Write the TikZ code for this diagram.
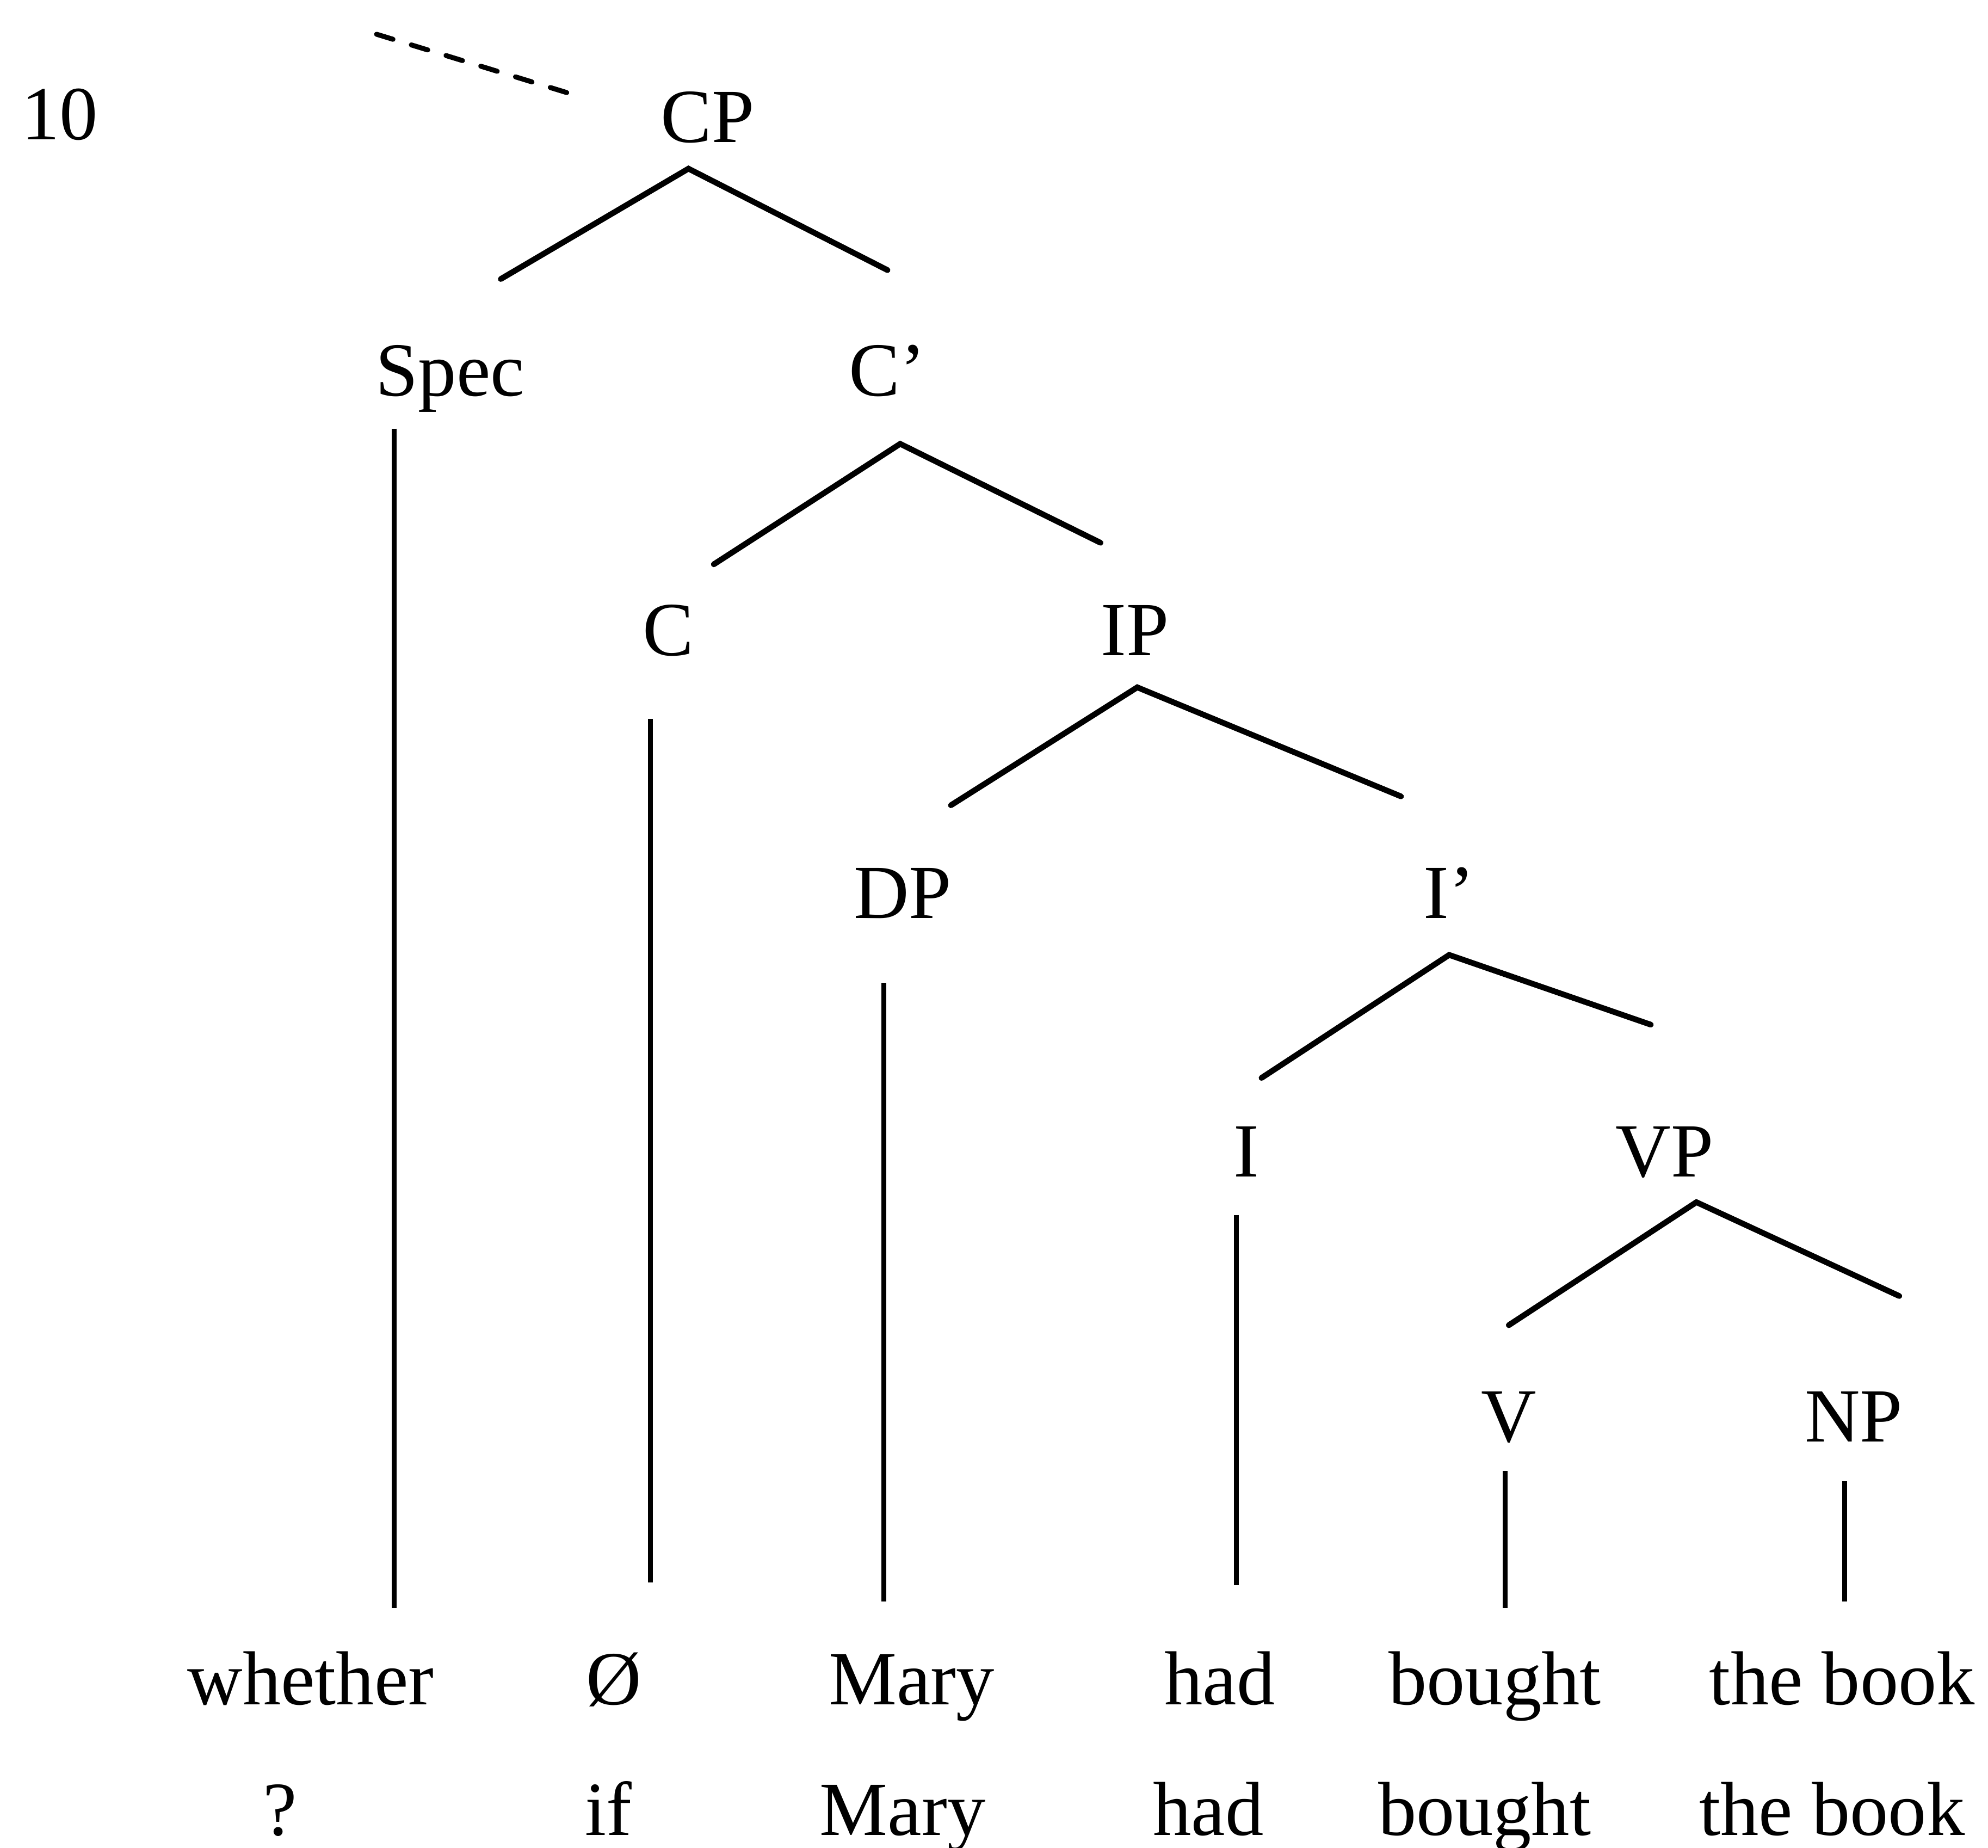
\documentclass[tikz,border=0pt]{standalone}
\usepackage{fontspec}
\setmainfont{Liberation Serif}

\begin{document}
\begin{tikzpicture}[x=0.023304cm,y=-0.023304cm,
    every node/.style={font=\fontsize{40}{48}\selectfont,anchor=base,inner sep=0pt},
    branch/.style={line width=3pt,line cap=round,line join=miter},
    stem/.style={line width=2.6pt}]
\useasboundingbox (0,0) rectangle (1568,1457);
% category labels
\node (ex) at (47,110) {10};
\node (CP) at (558,112) {CP};
\node (Spec) at (355,312) {Spec};
\node (Cbar) at (700,312) {C’};
\node (C) at (527,517) {C};
\node (IP) at (895,517) {IP};
\node (DP) at (712,724) {DP};
\node (Ibar) at (1143,724) {I’};
\node (I) at (983,928) {I};
\node (VP) at (1313,928) {VP};
\node (V) at (1190,1137) {V};
\node (NP) at (1462,1137) {NP};
% words
\node (w1) at (245,1344) {whether};
\node (w2) at (484,1344) {Ø};
\node (w3) at (719,1344) {Mary};
\node (w4) at (962,1344) {had};
\node (w5) at (1179,1344) {bought};
\node (w6) at (1453,1344) {the book};
\node (v1) at (221,1447) {?};
\node (v2) at (480,1447) {if};
\node (v3) at (712,1447) {Mary};
\node (v4) at (953,1447) {had};
\node (v5) at (1171,1447) {bought};
\node (v6) at (1445,1447) {the book};
% branch points
\coordinate (dashA) at (297,27);
\coordinate (dashB) at (447,73);
\coordinate (cpT) at (543,133);  \coordinate (cpL) at (395,220);  \coordinate (cpR) at (700,213);
\coordinate (cbT) at (710,350);  \coordinate (cbL) at (563,445);  \coordinate (cbR) at (868,428);
\coordinate (ipT) at (897,542);  \coordinate (ipL) at (750,635);  \coordinate (ipR) at (1105,628);
\coordinate (ibT) at (1143,753); \coordinate (ibL) at (995,850);  \coordinate (ibR) at (1302,808);
\coordinate (vpT) at (1338,948); \coordinate (vpL) at (1190,1045); \coordinate (vpR) at (1498,1022);
% stems
\coordinate (specT) at (311,338);  \coordinate (specB) at (311,1268);
\coordinate (cT) at (513,567);     \coordinate (cB) at (513,1248);
\coordinate (dpT) at (697,775);    \coordinate (dpB) at (697,1263);
\coordinate (iT) at (975,958);     \coordinate (iB) at (975,1250);
\coordinate (vT) at (1187,1160);   \coordinate (vB) at (1187,1268);
\coordinate (npT) at (1455,1168);  \coordinate (npB) at (1455,1263);
\draw[line width=2.6pt,line cap=round,dash pattern=on 9pt off 10pt] (dashA) -- (dashB);
\draw[branch] (cpL) -- (cpT) -- (cpR);
\draw[branch] (cbL) -- (cbT) -- (cbR);
\draw[branch] (ipL) -- (ipT) -- (ipR);
\draw[branch] (ibL) -- (ibT) -- (ibR);
\draw[branch] (vpL) -- (vpT) -- (vpR);
\path[stem]
  (specT) edge (specB)
  (cT) edge (cB)
  (dpT) edge (dpB)
  (iT) edge (iB)
  (vT) edge (vB)
  (npT) edge (npB);
\end{tikzpicture}
\end{document}
